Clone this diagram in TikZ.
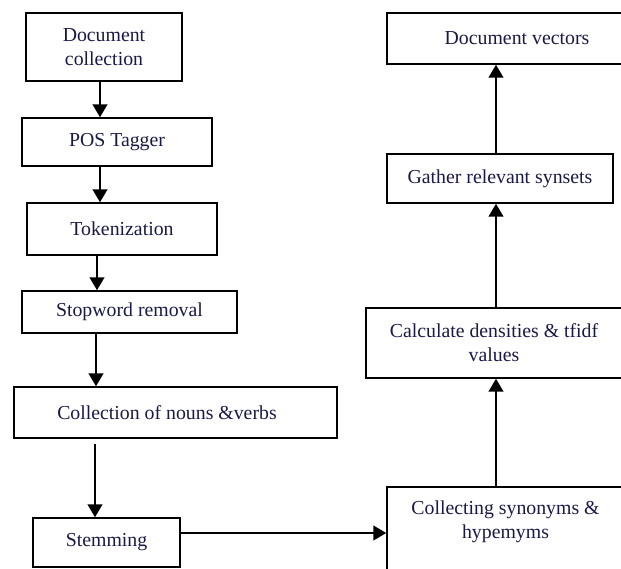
\documentclass[tikz,border=0pt]{standalone}
\usepackage{fontspec}
\setmainfont{Liberation Serif}
\usetikzlibrary{arrows.meta}
\definecolor{txt}{RGB}{25,25,70}
\tikzset{
  box/.style={draw=black, line width=1.4pt, rectangle, inner sep=0pt, align=center,
    text=txt, font=\fontsize{19.8}{24}\selectfont},
  lbl/.style={inner sep=0pt, align=center, text=txt, font=\fontsize{19.8}{24}\selectfont},
  arr/.style={line width=2.7pt, -{Triangle[width=14.5pt,length=13pt]}}
}
\begin{document}
\begin{tikzpicture}[x=1pt,y=-1pt]
\useasboundingbox (0,0) rectangle (621,568);
% left column
\node[box, minimum width=156pt, minimum height=68pt] (dc) at (104,47) {Document\\collection};
\node[box, minimum width=190pt, minimum height=48pt] (pos) at (117,142) {POS Tagger};
\node[box, minimum width=190pt, minimum height=52pt] (tok) at (122,229) {Tokenization};
\node[box, minimum width=215pt, minimum height=42pt] (stop) at (129.5,312) {Stopword removal};
\node[box, minimum width=323pt, minimum height=51pt] (coll) at (175.5,412.5) {\hspace*{-17pt}Collection of nouns \&verbs};
\node[box, minimum width=147pt, minimum height=49pt] (stem) at (106.5,542.5) {Stemming};
% right column
\node[box, minimum width=260pt, minimum height=51pt] (dv) at (517,38.5) {Document vectors};
\node[box, minimum width=226pt, minimum height=49pt] (gather) at (500,178.5) {Gather relevant synsets};
\node[box, minimum width=264pt, minimum height=70pt] (calc) at (498,343) {\hspace*{-8pt}Calculate densities \& tfidf\\\hspace*{-8pt}values};
\node[box, minimum width=243pt, minimum height=100pt] (cs) at (508.5,537) {};
\node[lbl] (cst) at (505.5,521.5) {Collecting synonyms \&\\hypemyms};
% connectors
\coordinate (cgap) at ([xshift=-80.5pt,yshift=-5pt]coll.south);
\coordinate (hline) at (0,533);
\draw[arr] ([xshift=-4pt]dc.south) -- ([xshift=-17pt]pos.north);
\draw[arr] ([xshift=-17pt]pos.south) -- ([xshift=-22pt]tok.north);
\draw[arr] ([xshift=-25pt]tok.south) -- ([xshift=-32.5pt]stop.north);
\draw[arr] ([xshift=-33.5pt]stop.south) -- ([xshift=-79.5pt]coll.north);
\draw[arr] (cgap) -- ([xshift=-11.5pt]stem.north);
\draw[arr] (stem.east |- hline) -- (cs.west |- hline);
\draw[arr] ([xshift=-12.5pt]cs.north) -- ([xshift=-2pt]calc.south);
\draw[arr] ([xshift=-2pt]calc.north) -- ([xshift=-4pt]gather.south);
\draw[arr] ([xshift=-4pt]gather.north) -- ([xshift=-21pt]dv.south);
\end{tikzpicture}
\end{document}
